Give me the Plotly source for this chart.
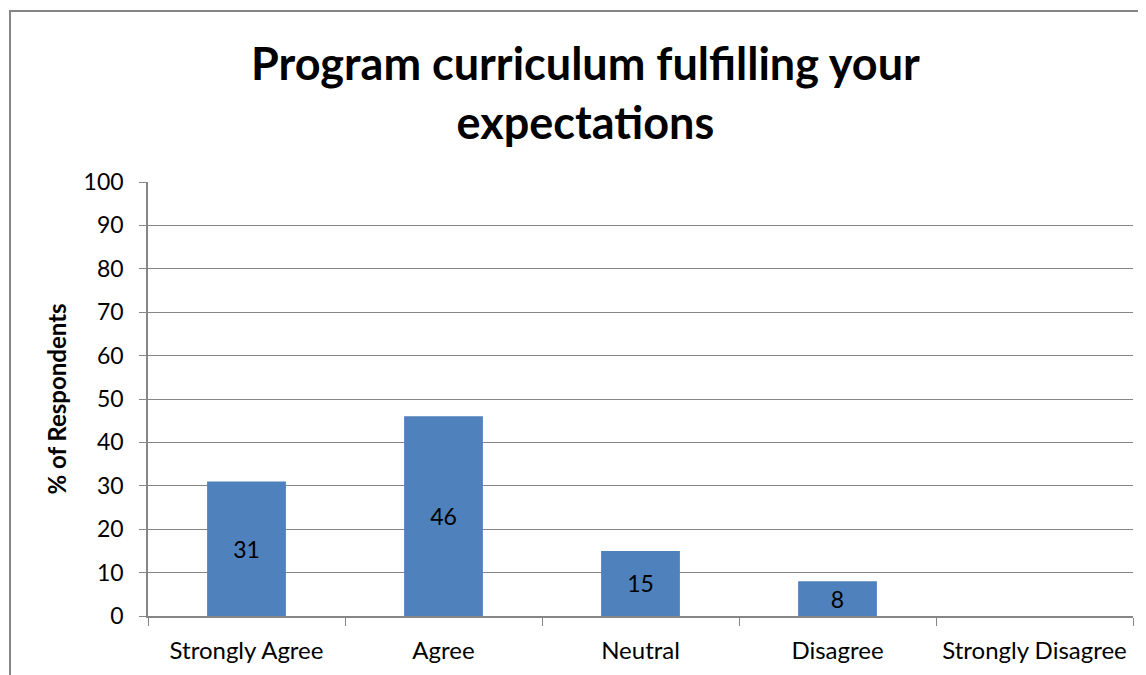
import plotly.graph_objects as go

categories = ["Strongly Agree", "Agree", "Neutral", "Disagree", "Strongly Disagree"]
values = [31, 46, 15, 8, 0]
labels = ["31", "46", "15", "8", ""]
y_ticks = list(range(0, 101, 10))

FONT = "Lato"
AXIS_GRAY = "#868686"

# page has 8px body margin; figure coords = page coords - 8
PL, PT, PW, PH = 140, 174, 985, 434

fig = go.Figure()
fig.add_trace(go.Bar(
    x=categories, y=values, text=labels, textposition="inside",
    insidetextanchor="middle",
    textfont=dict(family=FONT, size=23, color="black"),
    marker=dict(color="#4F81BD", line=dict(width=0)),
    width=0.4, hoverinfo="x+y",
))

fig.update_layout(
    width=1130, height=667,
    margin=dict(l=PL, r=5, t=PT, b=59),
    paper_bgcolor="white", plot_bgcolor="white",
    showlegend=False,
    font=dict(family=FONT, color="black"),
)
fig.update_yaxes(
    range=[0, 100], tickvals=y_ticks, ticktext=[str(v) for v in y_ticks],
    showgrid=True, gridcolor=AXIS_GRAY, gridwidth=1,
    showline=True, linecolor=AXIS_GRAY, linewidth=1.5,
    ticks="outside", ticklen=7, tickcolor=AXIS_GRAY, ticklabelstandoff=11,
    tickfont=dict(family=FONT, size=23, color="black"),
    zeroline=False,
    title=dict(text="<b>% of Respondents</b>", font=dict(family=FONT, size=24, color="black"), standoff=10),
)
fig.update_xaxes(
    showline=True, linecolor=AXIS_GRAY, linewidth=1.5,
    ticks="outside", ticklen=8, tickcolor=AXIS_GRAY, tickson="boundaries",
    tickfont=dict(family=FONT, size=24, color="black"), ticklabelstandoff=12,
    showgrid=False,
)
fig.add_annotation(
    text="<b>Program curriculum fulfilling your<br>expectations</b>",
    xref="paper", yref="paper", x=(577 - PL) / PW, y=1 + (PT - 84) / PH,
    xanchor="center", yanchor="middle", showarrow=False,
    font=dict(family=FONT, size=45, color="black"), align="center",
)
# outer chart border (cropped at right and bottom)
fig.add_shape(
    type="rect", xref="paper", yref="paper",
    x0=(2 - PL) / PW, x1=(1160 - PL) / PW,
    y0=-(720 - 608) / PH, y1=1 + (PT - 3) / PH,
    line=dict(color=AXIS_GRAY, width=2), fillcolor="rgba(0,0,0,0)", layer="below",
)

fig.write_html("out.html")
